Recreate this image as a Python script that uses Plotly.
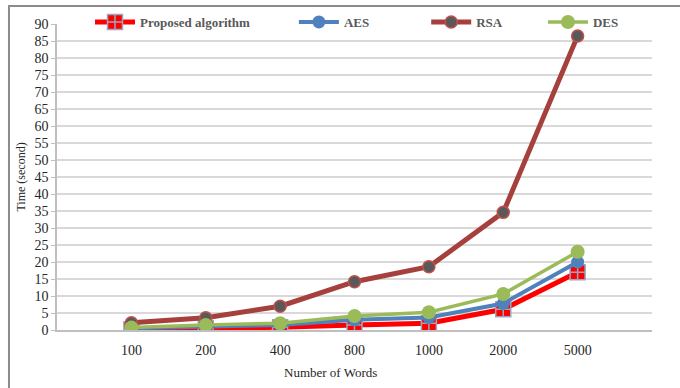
import plotly.graph_objects as go

categories = ["100", "200", "400", "800", "1000", "2000", "5000"]
proposed = [0.2, 0.5, 0.8, 1.5, 2.0, 6.1, 17.0]
aes = [0.5, 1.0, 1.5, 3.0, 3.7, 7.8, 20.0]
rsa = [2.1, 3.6, 7.0, 14.2, 18.6, 34.6, 86.5]
des = [0.7, 1.5, 2.0, 4.1, 5.2, 10.6, 23.0]
y_ticks = list(range(0, 91, 5))

x = list(range(len(categories)))
font_family = "Liberation Serif"
nb = "\u00a0"

fig = go.Figure()
fig.add_trace(go.Scatter(
    x=x, y=proposed, name="Proposed algorithm" + nb * 12, mode="lines+markers",
    line=dict(color="#FF0000", width=5),
    marker=dict(symbol="square-cross", size=15, color="#FF0000",
                line=dict(color="#9AA6C0", width=1.5)),
))
fig.add_trace(go.Scatter(
    x=x, y=aes, name="AES" + nb * 16, mode="lines+markers",
    line=dict(color="#4F81BD", width=4),
    marker=dict(symbol="circle", size=13, color="#4F81BD"),
))
fig.add_trace(go.Scatter(
    x=x, y=rsa, name="RSA" + nb * 11, mode="lines+markers",
    line=dict(color="#A5403C", width=5),
    marker=dict(symbol="circle", size=12, color="#595959",
                line=dict(color="#C0504D", width=1.5)),
))
fig.add_trace(go.Scatter(
    x=x, y=des, name="DES", mode="lines+markers",
    line=dict(color="#9BBB59", width=3.5),
    marker=dict(symbol="circle", size=14, color="#9BBB59"),
))

fig.update_layout(
    width=680, height=388,
    margin=dict(l=57, r=28, t=24, b=58, autoexpand=False),
    paper_bgcolor="white", plot_bgcolor="white",
    font=dict(family=font_family, color="#262626", size=14),
    showlegend=True,
    legend=dict(
        orientation="h", xref="container", x=90 / 680, xanchor="left",
        yref="container", y=1 - 22 / 388, yanchor="middle",
        bgcolor="rgba(0,0,0,0)",
        font=dict(family=font_family, size=13, color="#595959", weight="bold"),
        itemwidth=40,
    ),
    xaxis=dict(
        range=[-1, 7], tickmode="array", tickvals=x, ticktext=categories,
        showgrid=False, showline=True, linecolor="#BFBFBF", linewidth=1.5,
        ticks="", ticklabelstandoff=6, zeroline=False,
        tickfont=dict(family=font_family, size=14, color="#262626"),
    ),
    yaxis=dict(
        range=[0, 90], tickmode="array", tickvals=y_ticks,
        showgrid=True, gridcolor="#D9D9D9", gridwidth=1.5,
        showline=True, linecolor="#BFBFBF", linewidth=1.5,
        ticks="outside", ticklen=4, tickcolor="#BFBFBF", zeroline=False,
        tickfont=dict(family=font_family, size=14, color="#262626"),
        title=dict(text="Time (second)", standoff=6,
                   font=dict(family=font_family, size=12, color="#262626")),
    ),
    annotations=[dict(
        text="Number of Words", xref="paper", yref="paper",
        x=0.46, y=-0.14, xanchor="center", yanchor="middle", showarrow=False,
        font=dict(family=font_family, size=13, color="#262626"),
    )],
    shapes=[dict(
        type="rect", xref="paper", yref="paper",
        x0=-0.0807, x1=1.1, y0=-0.3, y1=1.059,
        line=dict(color="#8C8C8C", width=2), layer="below",
    )],
)

fig.write_html("out.html", config={"displayModeBar": False},
               post_script="document.body.style.margin='0';")
